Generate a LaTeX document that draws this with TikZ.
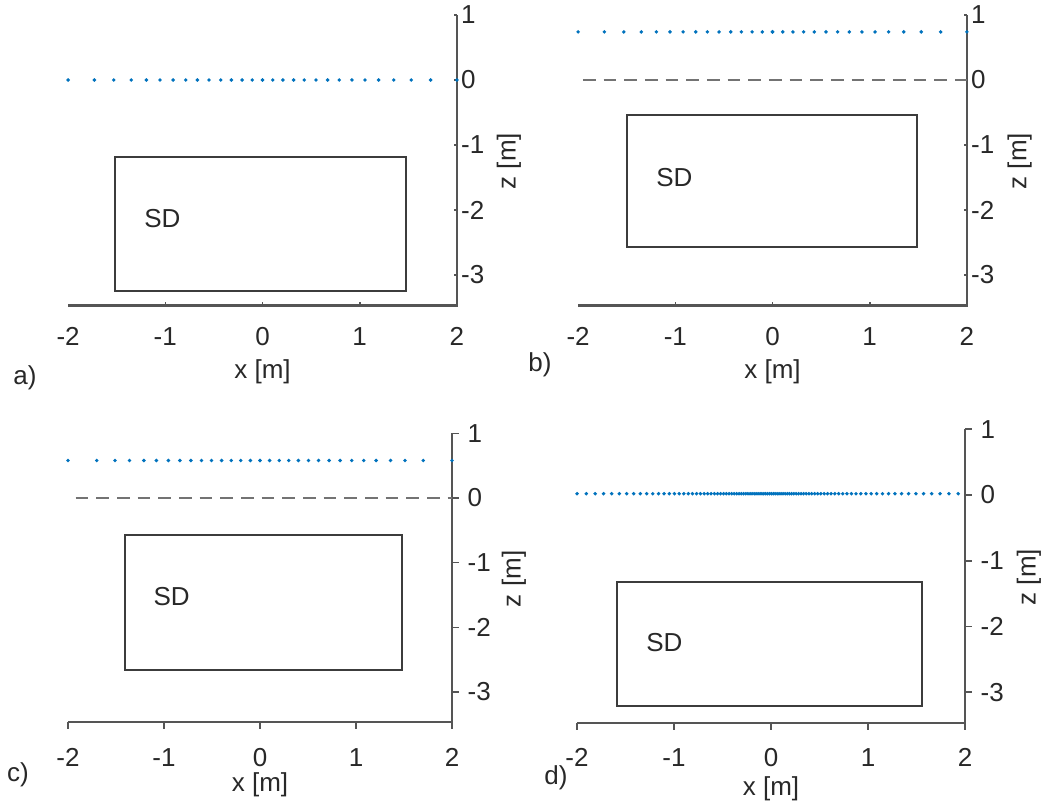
\documentclass[tikz,border=0pt]{standalone}
\usepackage{fontspec}
\setmainfont{Liberation Sans}
\definecolor{dotblue}{RGB}{0,114,189}
\definecolor{axgray}{RGB}{85,85,85}
\definecolor{boxgray}{RGB}{60,60,60}
\definecolor{dashgray}{RGB}{115,115,115}
\definecolor{txtgray}{RGB}{40,40,40}
\tikzset{
  lab/.style={font=\fontsize{19.5}{23}\selectfont, inner sep=0pt, text=txtgray},
  axisline/.style={draw=axgray, line width=1.6pt},
  tickline/.style={draw=axgray, line width=1.2pt},
  sdbox/.style={draw=boxgray, line width=1.5pt},
  refline/.style={draw=dashgray, line width=1.5pt, dash pattern=on 9.5pt off 6pt},
}
\begin{document}
\begin{tikzpicture}[x=0.75pt,y=-0.75pt]
\useasboundingbox (0,0) rectangle (1044,805);

% ---------------- panel a ----------------
\begin{scope}[shift={(262.5,80)},x=72.9pt,y=48.75pt]
  \draw[axisline] (-2,-3.47) -- (2,-3.47) -- (2,1);
  \foreach \t in {-1,0,1} \draw[tickline] (\t,-3.47) -- ++(0pt,2.5pt);
  \foreach \t in {1,0,-1,-2,-3} \draw[tickline] (2,\t) -- ++(-2.5pt,0pt);
  \foreach \t/\n in {-2/m2,-1/m1,0/z0,1/p1,2/p2}
    \node[lab] (a\n) at ([yshift=-23pt]\t,-3.47) {\ifnum\t<0 -\number-\t\else\t\fi};
  \foreach \t/\n in {1/p1,0/z0,-1/m1,-2/m2,-3/m3}
    \node[lab,anchor=west] (ay\n) at ([xshift=3pt]2,\t) {\ifnum\t<0 -\number-\t\else\t\fi};
  \node[lab] (axl) at ([yshift=-49.5pt]0,-3.47) {x [m]};
  \node[lab,rotate=90] (azl) at ([xshift=39pt]2,-1.25) {z [m]};
  \draw[sdbox] (-1.52,-1.18) rectangle (1.48,-3.25);
  \node[lab] (asd) at (-1.03,-2.13) {SD};
  \foreach \v in {0,0.105,0.21,0.32,0.43,0.55,0.67,0.79,0.92,1.055,1.195,1.35,1.53,1.73,2.0}
    {\fill[dotblue] (\v,0) circle (1.45pt); \fill[dotblue] (-\v,0) circle (1.45pt);}
\end{scope}
\node[lab] (la) at (25,378) {a)};

% ---------------- panel b ----------------
\begin{scope}[shift={(772.5,80)},x=72.9pt,y=48.75pt]
  \draw[axisline] (-2,-3.47) -- (2,-3.47) -- (2,1);
  \foreach \t in {-1,0,1} \draw[tickline] (\t,-3.47) -- ++(0pt,2.5pt);
  \foreach \t in {1,0,-1,-2,-3} \draw[tickline] (2,\t) -- ++(-2.5pt,0pt);
  \foreach \t/\n in {-2/m2,-1/m1,0/z0,1/p1,2/p2}
    \node[lab] (b\n) at ([yshift=-23pt]\t,-3.47) {\ifnum\t<0 -\number-\t\else\t\fi};
  \foreach \t/\n in {1/p1,0/z0,-1/m1,-2/m2,-3/m3}
    \node[lab,anchor=west] (by\n) at ([xshift=3pt]2,\t) {\ifnum\t<0 -\number-\t\else\t\fi};
  \node[lab] (bxl) at ([yshift=-49.5pt]0,-3.47) {x [m]};
  \node[lab,rotate=90] (bzl) at ([xshift=39.5pt]2,-1.25) {z [m]};
  \draw[refline] (-1.95,0) -- (2,0);
  \draw[sdbox] (-1.5,-0.54) rectangle (1.49,-2.57);
  \node[lab] (bsd) at (-1.01,-1.5) {SD};
  \foreach \v in {0,0.105,0.21,0.32,0.43,0.55,0.67,0.79,0.92,1.055,1.195,1.35,1.53,1.73,2.0}
    {\fill[dotblue] (\v,0.74) circle (1.45pt); \fill[dotblue] (-\v,0.74) circle (1.45pt);}
\end{scope}
\node[lab] (lb) at (540,365) {b)};

% ---------------- panel c ----------------
\begin{scope}[shift={(260,498)},x=72pt,y=48.5pt]
  \draw[axisline] (-2,-3.47) -- (2,-3.47) -- (2,1);
  \foreach \t in {-2,-1,0,1,2} \draw[tickline] (\t,-3.47) -- ++(0pt,-5pt);
  \foreach \t in {1,0,-1,-2,-3} \draw[tickline] (2,\t) -- ++(5pt,0pt);
  \foreach \t/\n in {-2/m2,-1/m1,0/z0,1/p1,2/p2}
    \node[lab] (c\n) at ([yshift=-26pt]\t,-3.47) {\ifnum\t<0 -\number-\t\else\t\fi};
  \foreach \t/\n in {1/p1,0/z0,-1/m1,-2/m2,-3/m3}
    \node[lab,anchor=west] (cy\n) at ([xshift=11.5pt]2,\t) {\ifnum\t<0 -\number-\t\else\t\fi};
  \node[lab] (cxl) at ([yshift=-47pt]0,-3.47) {x [m]};
  \node[lab,rotate=90] (czl) at ([xshift=46.5pt]2,-1.25) {z [m]};
  \draw[refline] (-1.92,0) -- (2,0);
  \draw[sdbox] (-1.41,-0.57) rectangle (1.48,-2.66);
  \node[lab] (csd) at (-0.92,-1.52) {SD};
  \foreach \v in {0,0.1,0.2,0.3,0.4,0.505,0.61,0.72,0.835,0.955,1.08,1.21,1.36,1.51,1.70,2.0}
    {\fill[dotblue] (\v,0.58) circle (1.45pt); \fill[dotblue] (-\v,0.58) circle (1.45pt);}
\end{scope}
\node[lab] (lc) at (18,775) {c)};

% ---------------- panel d ----------------
\begin{scope}[shift={(771,495)},x=72.75pt,y=49.3pt]
  \draw[axisline] (-2,-3.47) -- (2,-3.47) -- (2,1);
  \foreach \t in {-2,-1,0,1,2} \draw[tickline] (\t,-3.47) -- ++(0pt,-5pt);
  \foreach \t in {1,0,-1,-2,-3} \draw[tickline] (2,\t) -- ++(5pt,0pt);
  \foreach \t/\n in {-2/m2,-1/m1,0/z0,1/p1,2/p2}
    \node[lab] (d\n) at ([yshift=-26pt]\t,-3.47) {\ifnum\t<0 -\number-\t\else\t\fi};
  \foreach \t/\n in {1/p1,0/z0,-1/m1,-2/m2,-3/m3}
    \node[lab,anchor=west] (dy\n) at ([xshift=11.5pt]2,\t) {\ifnum\t<0 -\number-\t\else\t\fi};
  \node[lab] (dxl) at ([yshift=-49pt]0,-3.47) {x [m]};
  \node[lab,rotate=90] (dzl) at ([xshift=48pt]2,-1.25) {z [m]};
  \draw[sdbox] (-1.59,-1.32) rectangle (1.56,-3.21);
  \node[lab] (dsd) at (-1.1,-2.25) {SD};
  \foreach \i in {-47,...,47}
    {\pgfmathsetmacro\xx{-0.035+1.965*sinh(2.3*\i/47)/sinh(2.3)}
     \fill[dotblue] (\xx,0.02) circle (1.45pt);}
\end{scope}
\node[lab] (ld) at (556,778) {d)};
\end{tikzpicture}
\end{document}
